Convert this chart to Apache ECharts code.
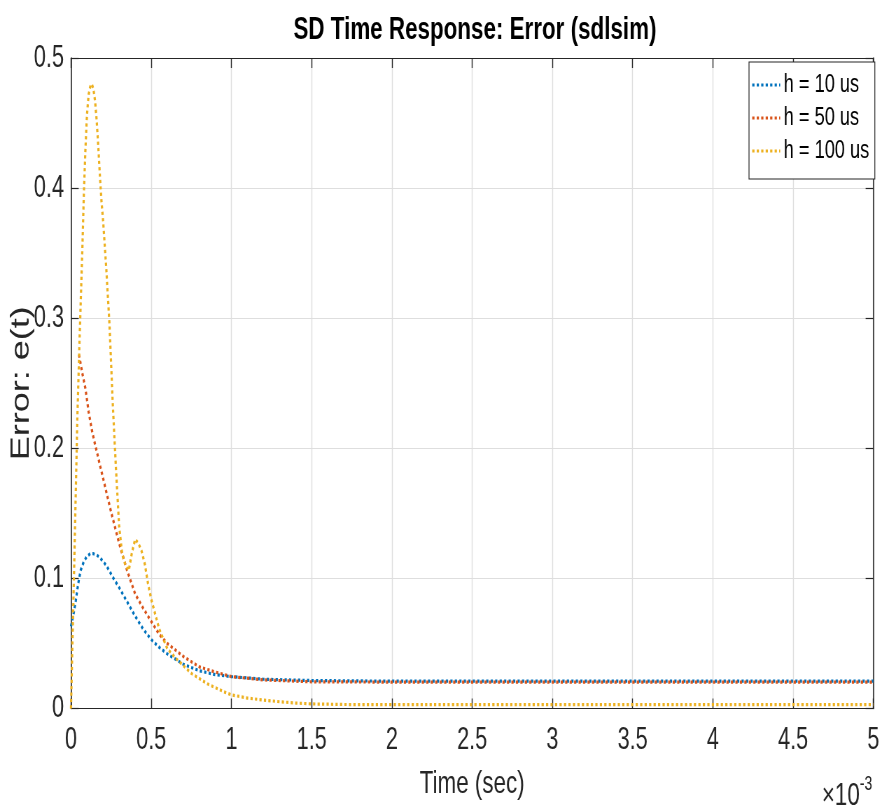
<!DOCTYPE html>
<html>
<head>
<meta charset="utf-8">
<script src="https://cdn.jsdelivr.net/npm/echarts@6/dist/echarts.min.js"></script>
<style>
html,body{margin:0;padding:0;background:#fff;overflow:hidden;}
#wrap{width:1260px;height:809px;transform:scaleX(0.7);transform-origin:0 0;}
#chart{width:1260px;height:809px;}
</style>
</head>
<body>
<div id="wrap"><div id="chart"></div></div>
<script>
// Time axis values are in units of 1e-3 s (axis shows x10^-3)
const xTicks = [0, 0.5, 1, 1.5, 2, 2.5, 3, 3.5, 4, 4.5, 5];
const yTicks = [0, 0.1, 0.2, 0.3, 0.4, 0.5];
const seriesNames = ['h = 10 us', 'h = 50 us', 'h = 100 us'];

const tBlue = [0, 0.015, 0.03, 0.045, 0.06, 0.08, 0.1, 0.12, 0.14, 0.16, 0.18, 0.2, 0.22, 0.26, 0.3, 0.35, 0.4, 0.45, 0.5, 0.55, 0.6, 0.65, 0.7, 0.8, 0.9, 1.0, 1.2, 1.5, 2.0, 2.5, 3.0, 3.5, 4.0, 4.5, 5.0];
const eBlue = [0.063, 0.072, 0.083, 0.096, 0.106, 0.113, 0.117, 0.119, 0.119, 0.118, 0.116, 0.113, 0.110, 0.101, 0.093, 0.082, 0.071, 0.061, 0.053, 0.047, 0.042, 0.038, 0.034, 0.029, 0.026, 0.0245, 0.0225, 0.0215, 0.021, 0.021, 0.021, 0.021, 0.021, 0.021, 0.021];

const tRed = [0.05, 0.07, 0.09, 0.11, 0.13, 0.15, 0.2, 0.25, 0.3, 0.35, 0.4, 0.45, 0.5, 0.55, 0.6, 0.7, 0.8, 0.9, 1.0, 1.2, 1.5, 2.0, 2.5, 3.0, 3.5, 4.0, 4.5, 5.0];
const eRed = [0.272, 0.258, 0.246, 0.228, 0.214, 0.203, 0.177, 0.151, 0.127, 0.106, 0.088, 0.077, 0.067, 0.057, 0.050, 0.040, 0.032, 0.028, 0.0245, 0.022, 0.0205, 0.0203, 0.0202, 0.0202, 0.0202, 0.0202, 0.0202, 0.0202];

const tYel = [0, 0.02, 0.04, 0.055, 0.07, 0.08, 0.09, 0.1, 0.11, 0.12, 0.13, 0.14, 0.15, 0.16, 0.17, 0.18, 0.19, 0.2, 0.22, 0.24, 0.26, 0.28, 0.3, 0.32, 0.34, 0.36, 0.38, 0.4, 0.42, 0.44, 0.46, 0.48, 0.5, 0.55, 0.6, 0.65, 0.7, 0.75, 0.8, 0.85, 0.9, 0.95, 1.0, 1.1, 1.2, 1.3, 1.4, 1.5, 1.75, 2.0, 2.5, 3.0, 3.5, 4.0, 4.5, 5.0];
const eYel = [0, 0.11, 0.225, 0.29, 0.35, 0.395, 0.43, 0.457, 0.472, 0.478, 0.48, 0.476, 0.467, 0.452, 0.432, 0.41, 0.39, 0.375, 0.338, 0.295, 0.235, 0.185, 0.14, 0.118, 0.11, 0.106, 0.12, 0.13, 0.127, 0.121, 0.111, 0.096, 0.084, 0.061, 0.046, 0.039, 0.033, 0.027, 0.023, 0.019, 0.016, 0.013, 0.0105, 0.008, 0.0065, 0.0052, 0.0042, 0.0035, 0.003, 0.003, 0.003, 0.003, 0.003, 0.003, 0.003, 0.003];

const colors = ['#0072BD', '#D95319', '#EDB120'];
const FONT = "'Liberation Sans', Arial, Helvetica, sans-serif";

function pairs(t, e) { return t.map((v, i) => [v, e[i]]); }

const chart = echarts.init(document.getElementById('chart'), null, {renderer: 'canvas'});

const axisColor = '#262626';
const commonX = {
  type: 'value', min: xTicks[0], max: xTicks[xTicks.length - 1], interval: xTicks[1] - xTicks[0]
};
const commonY = {
  type: 'value', min: yTicks[0], max: yTicks[yTicks.length - 1], interval: yTicks[1] - yTicks[0]
};

const option = {
  animation: false,
  backgroundColor: '#ffffff',
  title: {
    text: 'SD Time Response: Error (sdlsim)',
    left: 673.5,
    textAlign: 'center',
    top: 9,
    textStyle: {fontFamily: FONT, fontSize: 32, fontWeight: 'bold', color: '#000000'}
  },
  legend: {
    orient: 'vertical',
    left: 1070,
    top: 62,
    data: seriesNames,
    selectedMode: false,
    backgroundColor: '#ffffff',
    borderColor: '#262626',
    borderWidth: 1.2,
    padding: [10, 8, 15, 3],
    itemWidth: 40,
    itemHeight: 2,
    itemGap: 7,
    itemStyle: {opacity: 0, color: 'rgba(0,0,0,0)', borderWidth: 0},
    lineStyle: {width: 3.2},
    textStyle: {fontFamily: FONT, fontSize: 26, color: '#000000', lineHeight: 26}
  },
  grid: {left: 101.4, right: 12.4, top: 58, bottom: 100.5, containLabel: false, outerBoundsMode: 'none'},
  xAxis: [
    Object.assign({}, commonX, {
      position: 'bottom',
      name: 'Time (sec)',
      nameLocation: 'middle',
      nameGap: 60,
      nameMoveOverlap: false,
      nameTextStyle: {fontFamily: FONT, fontSize: 32, color: axisColor},
      axisLine: {show: true, onZero: false, lineStyle: {color: axisColor, width: 1.2}},
      axisTick: {show: true, inside: true, length: 10, lineStyle: {color: axisColor, width: 1.4}},
      axisLabel: {fontFamily: FONT, fontSize: 31, color: axisColor, margin: 16},
      splitLine: {show: true, lineStyle: {color: '#dedede', width: 1.4}}
    }),
    Object.assign({}, commonX, {
      position: 'top',
      axisLine: {show: true, onZero: false, lineStyle: {color: axisColor, width: 1.2}},
      axisTick: {show: true, inside: true, length: 10, lineStyle: {color: axisColor, width: 1.4}},
      axisLabel: {show: false},
      splitLine: {show: false}
    })
  ],
  yAxis: [
    Object.assign({}, commonY, {
      position: 'left',
      name: 'Error: e(t)',
      nameLocation: 'middle',
      nameGap: 52,
      nameMoveOverlap: false,
      nameTextStyle: {fontFamily: FONT, fontSize: 36, color: axisColor},
      axisLine: {show: true, onZero: false, lineStyle: {color: axisColor, width: 1.6}},
      axisTick: {show: true, inside: true, length: 11, lineStyle: {color: axisColor, width: 1.2}},
      axisLabel: {fontFamily: FONT, fontSize: 31, color: axisColor, margin: 10},
      splitLine: {show: true, lineStyle: {color: '#dedede', width: 1}}
    }),
    Object.assign({}, commonY, {
      position: 'right',
      axisLine: {show: true, onZero: false, lineStyle: {color: axisColor, width: 1.6}},
      axisTick: {show: true, inside: true, length: 11, lineStyle: {color: axisColor, width: 1.2}},
      axisLabel: {show: false},
      splitLine: {show: false}
    })
  ],
  graphic: [
    {
      type: 'text',
      right: 14,
      top: 774,
      style: {
        text: '{a|×10}{b|-3}',
        rich: {
          a: {fontFamily: FONT, fontSize: 32, fill: axisColor, verticalAlign: 'bottom'},
          b: {fontFamily: FONT, fontSize: 20, fill: axisColor, verticalAlign: 'top', padding: [0, 0, 18, 0]}
        }
      }
    }
  ],
  series: [
    {name: seriesNames[0], type: 'line', data: pairs(tBlue, eBlue), showSymbol: false, symbol: 'none',
     lineStyle: {color: colors[0], width: 3.2, type: 'dotted'}, itemStyle: {color: colors[0]}},
    {name: seriesNames[1], type: 'line', data: pairs(tRed, eRed), showSymbol: false, symbol: 'none',
     lineStyle: {color: colors[1], width: 3.2, type: 'dotted'}, itemStyle: {color: colors[1]}},
    {name: seriesNames[2], type: 'line', data: pairs(tYel, eYel), showSymbol: false, symbol: 'none',
     lineStyle: {color: colors[2], width: 3.2, type: 'dotted'}, itemStyle: {color: colors[2]}}
  ]
};
chart.setOption(option);
</script>
</body>
</html>
